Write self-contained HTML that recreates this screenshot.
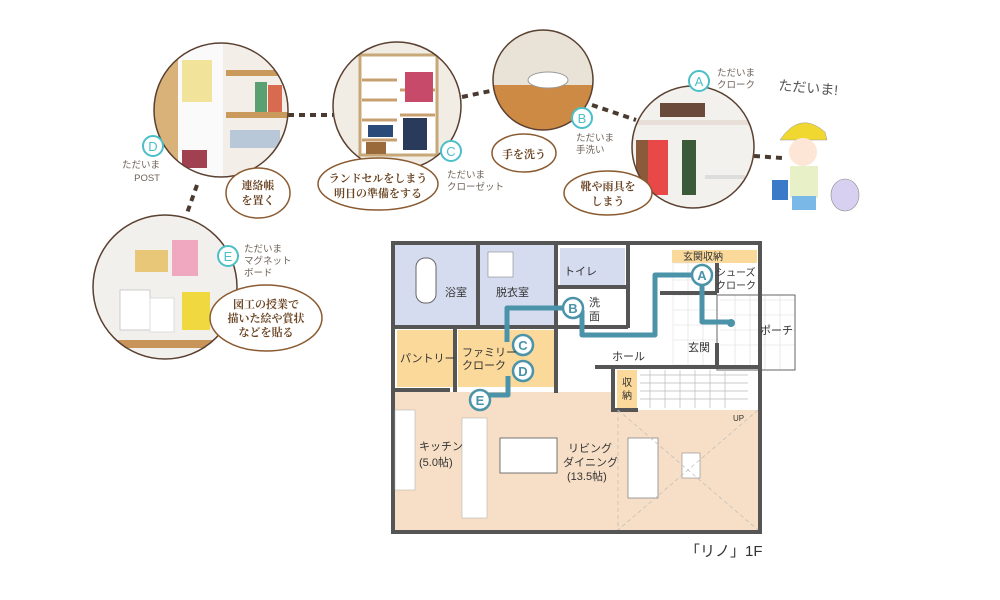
<!DOCTYPE html>
<html><head><meta charset="utf-8"><style>
html,body{margin:0;padding:0;background:#fff;}
svg{display:block;font-family:"Liberation Sans","Noto Sans CJK JP",sans-serif;}
.lb{font-size:9.5px;fill:#6d6258;}
.bt{font-size:11px;fill:#6b4524;font-weight:bold;font-family:"Liberation Serif","Noto Serif CJK SC",serif;}
.rm{font-size:11px;fill:#333;}
.lt{font-size:13px;fill:#4bbfc8;}
</style></head><body>
<svg width="1000" height="600" viewBox="0 0 1000 600" xmlns="http://www.w3.org/2000/svg">
<g stroke="#4a3a30" stroke-width="4" stroke-dasharray="6,5" fill="none">
<line x1="288" y1="115" x2="333" y2="115"/>
<line x1="462" y1="97" x2="495" y2="90"/>
<line x1="592" y1="105" x2="636" y2="120"/>
<line x1="754" y1="156" x2="782" y2="158"/>
<line x1="197" y1="185" x2="186" y2="216"/>
</g>
<defs>
<clipPath id="c1"><circle cx="221" cy="110" r="67"/></clipPath>
<clipPath id="c2"><circle cx="397" cy="106" r="64"/></clipPath>
<clipPath id="c3"><circle cx="543" cy="80" r="50"/></clipPath>
<clipPath id="c4"><circle cx="693" cy="147" r="61"/></clipPath>
<clipPath id="c5"><circle cx="165" cy="287" r="72"/></clipPath>
</defs>
<circle cx="221" cy="110" r="67" fill="#f3efe8"/>
<g clip-path="url(#c1)">
<rect x="150" y="40" width="28" height="150" fill="#d9b27a"/>
<rect x="178" y="40" width="45" height="150" fill="#fafafa"/>
<rect x="182" y="60" width="30" height="42" fill="#f1e39a"/>
<rect x="226" y="70" width="65" height="6" fill="#c99a5c"/>
<rect x="226" y="112" width="65" height="6" fill="#c99a5c"/>
<rect x="255" y="82" width="12" height="30" fill="#5aa070"/><rect x="268" y="85" width="14" height="27" fill="#d86a50"/>
<rect x="182" y="150" width="25" height="18" fill="#a04050"/>
<rect x="230" y="130" width="50" height="18" fill="#b8c8d8"/>
</g>
<circle cx="397" cy="106" r="64" fill="#f1ece4"/>
<g clip-path="url(#c2)">
<rect x="360" y="55" width="77" height="100" fill="#fff" stroke="#c8a878" stroke-width="3"/>
<g stroke="#c8a070" stroke-width="3"><path d="M362 80h35M362 100h35M362 120h35M362 140h35M400 90h35M400 115h35"/></g>
<rect x="405" y="72" width="28" height="30" fill="#c84a6a"/>
<rect x="403" y="118" width="24" height="32" fill="#2a3a5a"/>
<rect x="368" y="125" width="25" height="12" fill="#2a4a7a"/>
<rect x="366" y="142" width="20" height="12" fill="#9a6a3a"/>
</g>
<circle cx="543" cy="80" r="50" fill="#e8e3d6"/>
<g clip-path="url(#c3)">
<rect x="493" y="85" width="100" height="50" fill="#cc8a44"/>
<ellipse cx="548" cy="80" rx="20" ry="8" fill="#fff" stroke="#999"/>
</g>
<circle cx="693" cy="147" r="61" fill="#f3f1ee"/>
<g clip-path="url(#c4)">
<rect x="630" y="120" width="125" height="5" fill="#e8e0d8"/>
<rect x="648" y="140" width="20" height="55" fill="#e84848"/>
<rect x="636" y="140" width="12" height="50" fill="#8a5a3a"/>
<rect x="682" y="140" width="14" height="55" fill="#3a5a3a"/>
<rect x="660" y="103" width="45" height="14" fill="#6a4a3a"/>
<rect x="705" y="175" width="40" height="4" fill="#ddd"/>
</g>
<circle cx="165" cy="287" r="72" fill="#f2f0ec"/>
<g clip-path="url(#c5)">
<rect x="135" y="250" width="33" height="22" fill="#e8c878"/>
<rect x="172" y="240" width="26" height="36" fill="#f0a8c0"/>
<rect x="182" y="292" width="28" height="38" fill="#f0d840"/>
<rect x="120" y="290" width="30" height="40" fill="#fff" stroke="#ccc"/>
<rect x="150" y="298" width="24" height="34" fill="#fff" stroke="#ddd"/>
<rect x="90" y="340" width="150" height="8" fill="#c8945a"/>
</g>
<g fill="none" stroke="#5a4030" stroke-width="1.5">
<circle cx="221" cy="110" r="67"/><circle cx="397" cy="106" r="64"/><circle cx="543" cy="80" r="50"/><circle cx="693" cy="147" r="61"/><circle cx="165" cy="287" r="72"/>
</g>
<!-- kid -->
<g>
<path d="M780 140 q20 -30 45 -8 l2 8 z" fill="#f0d830" stroke="#999" stroke-width=".5"/>
<circle cx="803" cy="152" r="14" fill="#fde6d6"/>
<rect x="790" y="166" width="28" height="32" fill="#e8f0c8"/>
<rect x="792" y="196" width="24" height="14" fill="#7ab8e8"/>
<rect x="772" y="180" width="16" height="20" fill="#3a7ac8"/>
<ellipse cx="845" cy="195" rx="14" ry="16" fill="#d8d0f0" stroke="#888" stroke-width=".6"/>
</g>
<text x="778" y="90" font-size="14" fill="#555" transform="rotate(5 778 90)">ただいま!</text>
<g fill="#fff" stroke="#8a5a30" stroke-width="1.5">
<ellipse cx="258" cy="193" rx="32" ry="25"/>
<ellipse cx="378" cy="184" rx="60" ry="26"/>
<ellipse cx="524" cy="153" rx="32" ry="19"/>
<ellipse cx="608" cy="193" rx="44" ry="22"/>
<ellipse cx="266" cy="318" rx="56" ry="33"/>
</g>
<text class="bt" text-anchor="middle"><tspan x="258" y="189">連絡帳</tspan><tspan x="258" y="204">を置く</tspan></text>
<text class="bt" text-anchor="middle"><tspan x="378" y="182">ランドセルをしまう</tspan><tspan x="378" y="197">明日の準備をする</tspan></text>
<text class="bt" text-anchor="middle" x="524" y="158">手を洗う</text>
<text class="bt" text-anchor="middle"><tspan x="608" y="190">靴や雨具を</tspan><tspan x="608" y="205">しまう</tspan></text>
<text class="bt" text-anchor="middle"><tspan x="266" y="308">図工の授業で</tspan><tspan x="266" y="322">描いた絵や賞状</tspan><tspan x="266" y="336">などを貼る</tspan></text>
<g fill="#fff" stroke="#4bbfc8" stroke-width="2">
<circle cx="153" cy="146" r="10"/><circle cx="451" cy="151" r="10"/><circle cx="582" cy="118" r="10"/><circle cx="699" cy="81" r="10"/><circle cx="228" cy="256" r="10"/>
</g>
<g class="lt" text-anchor="middle"><text x="153" y="151">D</text><text x="451" y="156">C</text><text x="582" y="123">B</text><text x="699" y="86">A</text><text x="228" y="261">E</text></g>
<text class="lb" text-anchor="end"><tspan x="160" y="168">ただいま</tspan><tspan x="160" y="181">POST</tspan></text>
<text class="lb"><tspan x="447" y="178">ただいま</tspan><tspan x="447" y="190">クローゼット</tspan></text>
<text class="lb"><tspan x="576" y="141">ただいま</tspan><tspan x="576" y="153">手洗い</tspan></text>
<text class="lb"><tspan x="717" y="76">ただいま</tspan><tspan x="717" y="88">クローク</tspan></text>
<text class="lb"><tspan x="244" y="252">ただいま</tspan><tspan x="244" y="264">マグネット</tspan><tspan x="244" y="276">ボード</tspan></text>
<!-- floor plan -->
<rect x="393" y="243" width="367" height="289" fill="#fff"/>
<rect x="395" y="392" width="363" height="138" fill="#f6dfc6"/>
<rect x="613" y="367" width="145" height="43" fill="#fff"/>
<rect x="395" y="245" width="82" height="80" fill="#d6dcef"/>
<rect x="480" y="245" width="75" height="80" fill="#d6dcef"/>
<rect x="560" y="248" width="65" height="37" fill="#d6dcef"/>
<rect x="397" y="330" width="56" height="57" fill="#fbd99a"/>
<rect x="458" y="330" width="97" height="57" fill="#fbd99a"/>
<rect x="672" y="250" width="85" height="13" fill="#fbd99a"/>
<rect x="617" y="370" width="20" height="38" fill="#fbd99a"/>
<rect x="673" y="263" width="44" height="102" fill="#fff" stroke="#ddd" stroke-width=".5"/>
<g stroke="#ddd" stroke-width=".6">
<path d="M673 280h44M673 295h44M673 310h44M673 325h44M673 340h44M688 263v102M703 263v102"/>
<path d="M720 300h75M720 315h75M720 330h75M720 345h75M735 295v75M750 295v75M765 295v75M780 295v75"/>
</g>
<rect x="717" y="295" width="78" height="75" fill="none" stroke="#666" stroke-width="1"/>
<g stroke="#bbb" stroke-width=".7"><path d="M640 375h108M640 383h108M640 391h108M640 399h108M650 370v38M665 370v38M680 370v38M695 370v38M710 370v38M725 370v38"/></g>
<g stroke="#555" stroke-width="4" fill="none">
<rect x="393" y="243" width="367" height="289"/>
<path d="M395 327h160M478 243v84M556 243v150M558 287h70M628 243v85M558 327h70M395 390h55M455 327v65M595 367h165M613 367v45M613 410h25M717 263v30M717 343v25M660 293h57"/>
</g>
<rect x="395" y="410" width="20" height="80" fill="#fff" stroke="#aaa" stroke-width=".5"/>
<rect x="462" y="418" width="25" height="100" fill="#fff" stroke="#aaa" stroke-width=".5"/>
<rect x="500" y="438" width="57" height="35" fill="#fff" stroke="#555" stroke-width=".8"/>
<rect x="628" y="438" width="30" height="60" fill="#fff" stroke="#888" stroke-width=".8"/>
<rect x="682" y="453" width="18" height="25" fill="#fff" stroke="#888" stroke-width=".6"/>
<path d="M618 410l140 120M758 410l-140 120M618 410v120" stroke="#bbb" stroke-width=".7" stroke-dasharray="4,3" fill="none"/>
<rect x="416" y="258" width="20" height="45" rx="9" fill="#fff" stroke="#666"/>
<rect x="488" y="252" width="25" height="25" fill="#fff" stroke="#888" stroke-width=".6"/>
<g stroke="#4a93a8" stroke-width="5" fill="none" stroke-linejoin="round">
<path d="M702 275H655V335H582V310M573 308H507V342"/>
<path d="M508 376V395H485"/>
<path d="M702 275V322H730"/>
</g>
<circle cx="731" cy="323" r="4" fill="#4a93a8"/>
<g fill="#fff" stroke="#4a93a8" stroke-width="2.5">
<circle cx="702" cy="275" r="10"/><circle cx="573" cy="308" r="10"/><circle cx="523" cy="345" r="10"/><circle cx="523" cy="371" r="10"/><circle cx="480" cy="400" r="10"/>
</g>
<g font-size="13" font-weight="bold" fill="#4a93a8" text-anchor="middle"><text x="702" y="280">A</text><text x="573" y="313">B</text><text x="523" y="350">C</text><text x="523" y="376">D</text><text x="480" y="405">E</text></g>
<g class="rm">
<text x="445" y="296">浴室</text><text x="496" y="296">脱衣室</text><text x="564" y="275">トイレ</text>
<text x="589" y="306">洗</text><text x="589" y="320">面</text>
<text x="683" y="260" font-size="10">玄関収納</text>
<text x="716" y="276" font-size="10">シューズ</text><text x="716" y="289" font-size="10">クローク</text>
<text x="688" y="351">玄関</text><text x="760" y="334">ポーチ</text><text x="612" y="360">ホール</text>
<text x="400" y="362">パントリー</text><text x="462" y="356">ファミリー</text><text x="462" y="369">クローク</text>
<text x="622" y="386" font-size="10">収</text><text x="622" y="399" font-size="10">納</text>
<text x="733" y="421" font-size="8">UP</text>
<text x="419" y="450">キッチン</text><text x="419" y="466">(5.0帖)</text>
<text x="568" y="452">リビング</text><text x="563" y="466">ダイニング</text><text x="567" y="480">(13.5帖)</text>
<text x="685" y="556" font-size="15" fill="#333">「リノ」1F</text>
</g>
</svg>
</body></html>
